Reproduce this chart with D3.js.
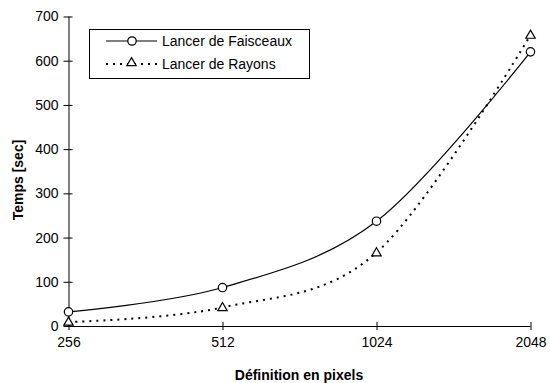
<!DOCTYPE html>
<html><head><meta charset="utf-8">
<script src="https://cdn.jsdelivr.net/npm/d3@7/dist/d3.min.js"></script>
<style>body{margin:0;background:#fff;}svg{display:block;font-family:"Liberation Sans",Arial,sans-serif;}</style>
</head><body>
<svg id="c" width="550" height="383"></svg>
<script>
const categories = ["256", "512", "1024", "2048"];
const faisceaux = [32, 87, 237, 620];
const rayons = [9, 42, 166, 658];
const yTicks = [0, 100, 200, 300, 400, 500, 600, 700];
const seriesNames = ["Lancer de Faisceaux", "Lancer de Rayons"];

const svg = d3.select("#c");
const x = d3.scalePoint().domain(categories).range([68.5, 530.5]);
const y = d3.scaleLinear().domain([0, 700]).range([326, 16.5]);

// axes
const gx = svg.append("g").attr("transform", "translate(0,326)")
  .call(d3.axisBottom(x).tickSize(5).tickSizeOuter(0));
gx.selectAll(".tick line").attr("y1", -4).attr("y2", 4);
gx.select(".domain").attr("d", "M68.5,0.5H530.5");
gx.selectAll("text").attr("y", 11).attr("dy", "0.71em").attr("font-size", 14).attr("font-family", "Liberation Sans, Arial, sans-serif").attr("fill", "#000");

const gy = svg.append("g").attr("transform", "translate(68.5,0)")
  .call(d3.axisLeft(y).tickValues(yTicks).tickSize(5).tickSizeOuter(0));
gy.selectAll(".tick line").attr("x1", -5).attr("x2", 4);
gy.select(".domain").attr("d", "M0.5,16.5V326");
gy.selectAll("text").attr("x", -10).attr("font-size", 14).attr("font-family", "Liberation Sans, Arial, sans-serif").attr("fill", "#000");
svg.selectAll(".domain, .tick line").attr("stroke", "#000");

// titles
svg.append("text").attr("x", 299).attr("y", 380).attr("text-anchor", "middle")
  .attr("font-weight", "bold").attr("font-size", 14).text("Définition en pixels");
svg.append("text").attr("transform", "translate(23,180) rotate(-90)").attr("text-anchor", "middle")
  .attr("font-weight", "bold").attr("font-size", 14).text("Temps [sec]");

const line = d3.line().x((d, i) => x(categories[i])).y(d => y(d)).curve(d3.curveCardinal.tension(0));

svg.append("path").datum(faisceaux).attr("d", line).attr("fill", "none").attr("stroke", "#000").attr("stroke-width", 1.2);
svg.append("path").datum(rayons).attr("d", line).attr("fill", "none").attr("stroke", "#000").attr("stroke-width", 2).attr("stroke-dasharray", "2,5");

const tri = d3.symbol().type(d3.symbolTriangle).size(38);
svg.selectAll("circle.m").data(faisceaux).join("circle").attr("class", "m")
  .attr("cx", (d, i) => x(categories[i])).attr("cy", d => y(d)).attr("r", 4.2)
  .attr("fill", "#fff").attr("stroke", "#000").attr("stroke-width", 1.2);
svg.selectAll("path.t").data(rayons).join("path").attr("class", "t").attr("d", tri)
  .attr("transform", (d, i) => `translate(${x(categories[i])},${y(d) + 0.5})`)
  .attr("fill", "#fff").attr("stroke", "#000").attr("stroke-width", 1.2);

// legend
const lg = svg.append("g");
lg.append("rect").attr("x", 89.5).attr("y", 29.5).attr("width", 220).attr("height", 49)
  .attr("fill", "#fff").attr("stroke", "#000").attr("stroke-width", 1);
lg.append("line").attr("x1", 106).attr("x2", 157).attr("y1", 41).attr("y2", 41).attr("stroke", "#000").attr("stroke-width", 1.2);
lg.append("circle").attr("cx", 132).attr("cy", 41).attr("r", 4.2).attr("fill", "#fff").attr("stroke", "#000").attr("stroke-width", 1.2);
lg.append("line").attr("x1", 106).attr("x2", 157).attr("y1", 64).attr("y2", 64).attr("stroke", "#000").attr("stroke-width", 2).attr("stroke-dasharray", "2,5");
lg.append("path").attr("d", tri).attr("transform", "translate(131.5,63)").attr("fill", "#fff").attr("stroke", "#000").attr("stroke-width", 1.2);
lg.append("text").attr("x", 162).attr("y", 46).attr("font-size", 14).text(seriesNames[0]);
lg.append("text").attr("x", 162).attr("y", 69).attr("font-size", 14).text(seriesNames[1]);
</script>
</body></html>
